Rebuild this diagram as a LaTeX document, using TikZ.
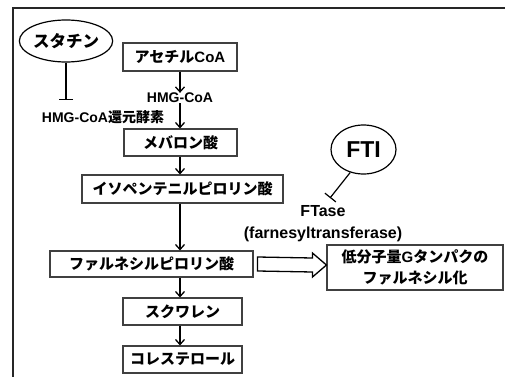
\documentclass[tikz,border=0pt]{standalone}
\usepackage{fontspec}
\setmainfont{Liberation Sans}
\newfontfamily\jp{Noto Sans CJK JP}
\usetikzlibrary{arrows.meta,calc,shapes.geometric}
\tikzset{
  box/.style={draw=black!75,line width=1.1pt,rectangle,inner sep=0pt,align=center,font=\fontsize{15}{18}\selectfont\bfseries},
  oval/.style={draw=black,line width=1.2pt,ellipse,inner sep=0pt},
  lbl/.style={inner sep=0pt,align=center},
  flow/.style={draw=black,line width=1.3pt,-{Straight Barb[length=5pt,width=9pt,line width=1.3pt]}},
  inhib/.style={draw=black,line width=1.2pt,-{Bar[width=14pt,line width=1.2pt]}},
}
\begin{document}
\begin{tikzpicture}[x=1pt,y=-1pt]
\useasboundingbox (0,0) rectangle (505,377);
\fill[white] (0,0) rectangle (505,377);
\draw[line width=2pt,black!85] (505,8) -- (13,8) -- (13,377);

\node[oval,minimum width=88,minimum height=42,font=\fontsize{16.5}{19}\selectfont\bfseries] (statin) at (66,41) {\jp スタチン};
\node[box,minimum width=114,minimum height=28] (acetyl) at (180,57) {{\jp アセチル}CoA};
\node[lbl,font=\fontsize{14}{16}\selectfont\bfseries] (hmg) at (180,98) {HMG-CoA};
\node[lbl,font=\fontsize{14}{16}\selectfont\bfseries] (hmgr) at (103,117) {HMG-CoA{\jp 還元酵素}};
\node[box,minimum width=113,minimum height=27] (mev) at (180.5,142.5) {\jp メバロン酸};
\node[box,minimum width=201,minimum height=28] (iso) at (182.5,189) {\jp イソペンテニルピロリン酸};
\node[box,minimum width=203,minimum height=26] (farn) at (151.5,264) {\jp ファルネシルピロリン酸};
\node[box,minimum width=119,minimum height=27] (squa) at (182.5,311.5) {\jp スクワレン};
\node[box,minimum width=119,minimum height=27] (chol) at (182.5,359.5) {\jp コレステロール};

\node[oval,minimum width=65,minimum height=49,font=\fontsize{23}{26}\selectfont\bfseries] (fti) at (363.5,149.5) {FTI};
\node[lbl,font=\fontsize{16}{22}\selectfont\bfseries] (ftase) at (323,224) {FTase\\(farnesyltransferase)};
\node[box,minimum width=176,minimum height=45,font=\fontsize{15}{21}\selectfont\bfseries] (lowg) at (415,267.5) {{\jp 低分子量}G{\jp タンパクの}\\{\jp ファルネシル化}};

\coordinate (statinbar) at (66,100);
\coordinate (ftibar) at (330,198);
\draw[inhib] (statin.south) -- (statinbar);
\draw[inhib] (fti.240) -- (ftibar);

\coordinate (s1) at (mev.south -| acetyl.south);
\coordinate (s2) at (iso.south -| acetyl.south);
\coordinate (s3) at (farn.south -| acetyl.south);
\coordinate (s4) at (squa.south -| acetyl.south);

\draw[flow] (acetyl.south) -- (hmg.north);
\draw[flow] (hmg.south) -- (hmg.south |- mev.north);
\draw[flow] (s1) -- (s1 |- iso.north);
\draw[flow] (s2) -- (s2 |- farn.north);
\draw[flow] (s3) -- (s3 |- squa.north);
\draw[flow] (s4) -- (s4 |- chol.north);

\coordinate (ha) at ($(farn.east)+(4,0)$);
\coordinate (hb) at ($(lowg.west)+(0,-2.5)$);
\draw[line width=1.3pt,black,line join=miter]
  ($(ha)+(0,-7)$) -- ($(hb)+(-14,-7)$) -- ($(hb)+(-14,-12)$) -- (hb)
  -- ($(hb)+(-14,12)$) -- ($(hb)+(-14,7)$) -- ($(ha)+(0,7)$) -- cycle;
\end{tikzpicture}
\end{document}
